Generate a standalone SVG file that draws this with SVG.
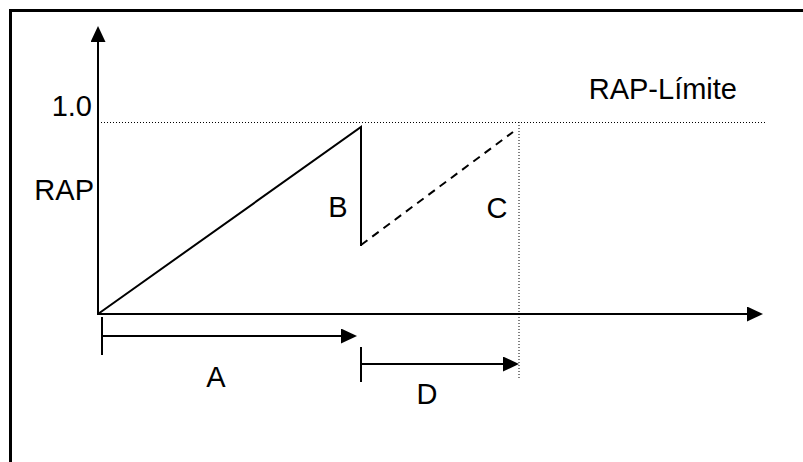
<svg xmlns="http://www.w3.org/2000/svg" width="803" height="462" viewBox="0 0 803 462">
<defs>
<marker id="ah" markerUnits="userSpaceOnUse" markerWidth="16" markerHeight="15" refX="12" refY="7.5" orient="auto">
<path d="M0,0 L16,7.5 L0,15 z" fill="#000"/>
</marker>
<style>
text{font-family:"Liberation Sans",Arial,sans-serif;font-size:29px;fill:#000}
.ax{stroke:#000;stroke-width:2;fill:none}
.dot{stroke:#000;stroke-width:1;stroke-dasharray:1 2;fill:none}
.dash{stroke:#000;stroke-width:2;stroke-dasharray:8 6;fill:none}
</style>
</defs>
<rect width="803" height="462" fill="#fff"/>
<path d="M10.5,462 V10.5 H803" fill="none" stroke="#000" stroke-width="3"/>
<g id="connectors">
<line class="ax" x1="98" y1="315" x2="98" y2="30" marker-end="url(#ah)"/>
<line class="ax" x1="97" y1="314" x2="759" y2="314" marker-end="url(#ah)"/>
<line class="dot" x1="101" y1="122.5" x2="766" y2="122.5"/>
<line class="dot" x1="519" y1="122" x2="519" y2="380"/>
<polyline class="ax" points="98,314 361,127 361,246"/>
<line class="dash" x1="361" y1="245" x2="513" y2="132"/>
<line class="ax" x1="102" y1="317" x2="102" y2="355"/>
<line class="ax" x1="102" y1="336" x2="353" y2="336" marker-end="url(#ah)"/>
<line class="ax" x1="361" y1="347" x2="361" y2="382"/>
<line class="ax" x1="361" y1="364" x2="515" y2="364" marker-end="url(#ah)"/>
</g>
<g id="labels">
<text x="92" y="116" text-anchor="end">1.0</text>
<text x="94" y="200" text-anchor="end">RAP</text>
<text x="737" y="99" text-anchor="end">RAP-Límite</text>
<text x="338" y="217" text-anchor="middle">B</text>
<text x="497" y="218" text-anchor="middle">C</text>
<text x="216" y="387" text-anchor="middle">A</text>
<text x="427" y="404" text-anchor="middle">D</text>
</g>
</svg>
